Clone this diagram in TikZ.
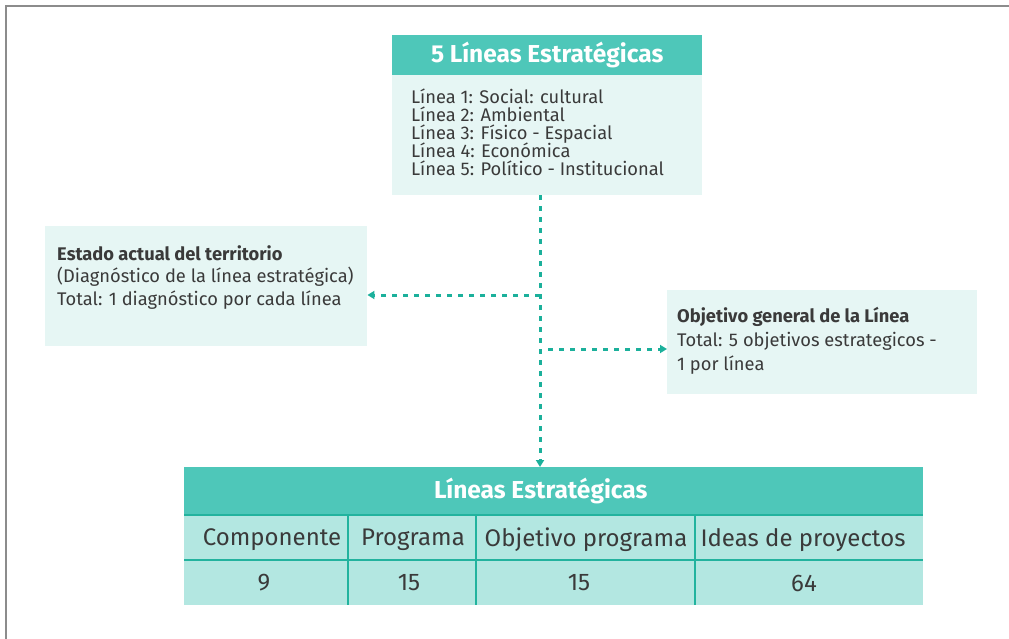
\documentclass[tikz,border=0pt]{standalone}
\usepackage{fontspec}
\setmainfont{Fira Sans}
\usetikzlibrary{arrows.meta}
\setlength{\lineskiplimit}{-20pt}
\definecolor{headteal}{HTML}{4EC7B9}
\definecolor{paleteal}{HTML}{E6F6F4}
\definecolor{rowteal}{HTML}{B3E7E1}
\definecolor{lineteal}{HTML}{22B39E}
\definecolor{conn}{HTML}{1BB09B}
\definecolor{txt}{HTML}{3A3A3A}
\definecolor{frame}{HTML}{8C8C8C}
\tikzset{
  headbox/.style={fill=headteal, text=white, inner sep=0, anchor=north west, font=\fontsize{24.5}{28}\selectfont\bfseries},
  palebox/.style={fill=paleteal, inner sep=0, anchor=north west},
  bodytext/.style={text=txt, inner sep=0, anchor=north west, align=left},
  cell/.style={text=txt, inner sep=0, font=\fontsize{24}{26}\selectfont},
  connector/.style={draw=conn, line width=3pt, dash pattern=on 5pt off 6pt, -{Triangle[length=7pt,width=8pt]}},
  gridline/.style={draw=lineteal, line width=1.4pt}
}
\begin{document}
\begin{tikzpicture}[x=1pt,y=-1pt]
\useasboundingbox (0,0) rectangle (1009,639);
\draw[frame, line width=2.2pt] (6,639) -- (6,6) -- (1009,6);

% top box
\node[headbox, minimum width=310pt, minimum height=40pt] (tophead) at (392,35) {5 Líneas Estratégicas};
\node[palebox, minimum width=310pt, minimum height=120pt] (topbody) at (392,75) {};
\node[bodytext, font=\fontsize{18.3}{18}\selectfont] (toptext) at (411,89) {Línea 1: Social: cultural\\Línea 2: Ambiental\\Línea 3: Físico - Espacial\\Línea 4: Económica\\Línea 5: Político - Institucional};

% left box
\node[palebox, minimum width=322pt, minimum height=120pt] (diag) at (45,226) {};
\node[bodytext, font=\fontsize{18.3}{22.5}\selectfont] (diagtext) at (57,245) {\textbf{Estado actual del territorio}\\(Diagnóstico de la línea estratégica)\\Total: 1 diagnóstico por cada línea};

% right box
\node[palebox, minimum width=310pt, minimum height=104pt] (obj) at (667,290) {};
\node[bodytext, font=\fontsize{18.3}{24}\selectfont] (objtext) at (677,307) {\textbf{Objetivo general de la Línea}\\Total: 5 objetivos estrategicos -\\1 por línea};

% table
\node[headbox, minimum width=739pt, minimum height=48pt, font=\fontsize{24.5}{28}\selectfont\bfseries] (tabhead) at (184,467) {\hspace*{-26pt}Líneas Estratégicas};
\node[fill=rowteal, inner sep=0, anchor=north west, minimum width=739pt, minimum height=90pt] (tabrows) at (184,515) {};
\draw[gridline] (184,515) -- (923,515);
\draw[gridline] (184,560) -- (923,560);
\draw[gridline] (348,515) -- (348,605);
\draw[gridline] (476,515) -- (476,605);
\draw[gridline] (695,515) -- (695,605);
\node[cell] (h1) at (272,540) {Componente};
\node[cell] (h2) at (413,540) {Programa};
\node[cell] (h3) at (586,540) {Objetivo programa};
\node[cell] (h4) at (803,540) {Ideas de proyectos};
\node[cell] (v1) at (264,583) {9};
\node[cell] (v2) at (409,583) {15};
\node[cell] (v3) at (579,583) {15};
\node[cell] (v4) at (804,583) {64};

% connectors
\coordinate (jl) at (540,295);
\coordinate (jr) at (548,349);
\draw[connector] (topbody.south -| 540,0) -- (tabhead.north -| 540,0);
\draw[connector] (jl) -- (diag.east |- jl);
\draw[connector] (jr) -- (obj.west |- jr);
\end{tikzpicture}
\end{document}
